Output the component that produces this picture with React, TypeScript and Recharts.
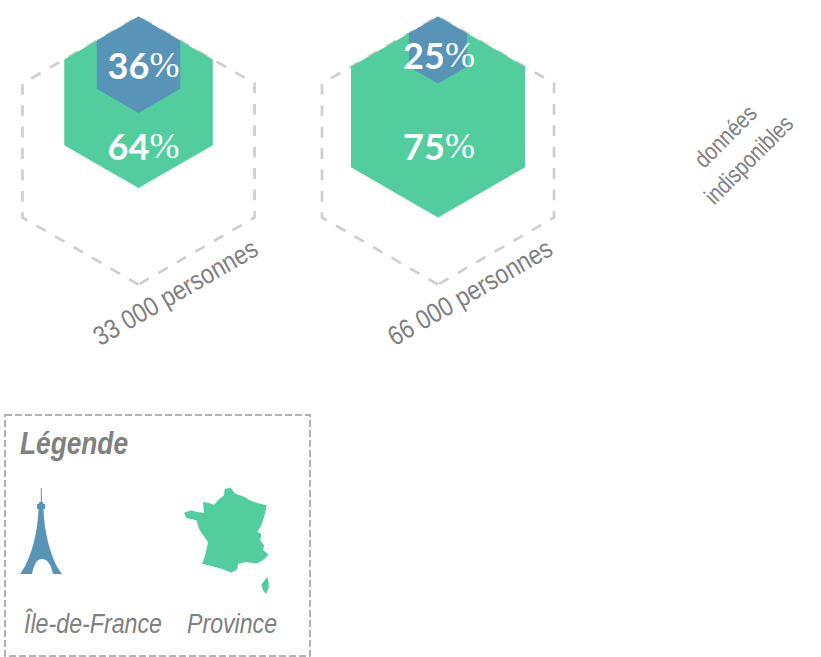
import { ScatterChart, Scatter, XAxis, YAxis, Legend } from 'recharts';

const regions = [0, 1, 2];
const idfShare = [36, 25, null];
const provinceShare = [64, 75, null];
const fullShare = [100, 100, null];
const populationLabels = ['33 000 personnes', '66 000 personnes', null];
const missingLabels = ['données', 'indisponibles'];
const missingRegion = 2;
const legendTitle = 'Légende';
const idfName = 'Île-de-France';
const provinceName = 'Province';

const BLUE = '#5894b8';
const GREEN = '#52ce9e';
const GREY = '#808080';
const NARROW = '"Liberation Sans", sans-serif';
const TOP = 16.5;

const toRows = (values: (number | null)[]) =>
    regions
        .map((region, i) => ({ region, share: values[i], population: populationLabels[i] }))
        .filter((row) => row.share !== null);

const idfRows = toRows(idfShare);
const provinceRows = toRows(provinceShare);
const fullRows = toRows(fullShare);
const missingRows = [{ region: missingRegion, share: 50 }];

// pointy-top hexagon hanging from the top vertex, cy is the bottom vertex
const hexPath = (cx: number, cy: number) => {
    const r = (cy - TOP) / 2;
    const w = r * Math.cos(Math.PI / 6);
    const m = TOP + r;
    return `M${cx},${cy} L${cx - w},${m + r / 2} L${cx - w},${m - r / 2} L${cx},${TOP} L${cx + w},${m - r / 2} L${cx + w},${m + r / 2} Z`;
};

// the font has no narrow cut here, so the labels are squeezed to the measured width
const NarrowText = ({ width, children, ...rest }: any) => (
    <text fill={GREY} fontFamily={NARROW} textLength={width} lengthAdjust="spacingAndGlyphs" {...rest}>
        {children}
    </text>
);

const PercentText = ({ x, y, value }: { x: number; y: number; value: number }) => (
    <text x={x} y={y} textAnchor="middle" dominantBaseline="central" fill="#fff" fontFamily="Lato" fontWeight={700} fontSize={36}>
        {value}
        <tspan fontFamily="Liberation Serif" fontWeight={400}>%</tspan>
    </text>
);

const OuterShape = ({ cx, cy, payload }: any) => {
    const lx = cx + (payload.region === 0 ? 37 : 32);
    const ly = cy + 8;
    return (
        <g>
            <path d={hexPath(cx, cy)} fill="none" stroke="#cfcfcf" strokeWidth={2.7} strokeDasharray="10.8 10.6" strokeLinejoin="round" />
            <NarrowText x={lx} y={ly} width={185} textAnchor="middle" dominantBaseline="central" fontSize={27} transform={`rotate(-30 ${lx} ${ly})`}>
                {payload.population}
            </NarrowText>
        </g>
    );
};

const ProvinceShape = ({ cx, cy, payload }: any) => (
    <g>
        <path d={hexPath(cx, cy)} fill={GREEN} />
        <PercentText x={cx + (payload.region === 0 ? 5 : 1)} y={146} value={payload.share} />
    </g>
);

const IdfShape = ({ cx, cy, payload }: any) => (
    <g>
        <path d={hexPath(cx, cy)} fill={BLUE} />
        <PercentText x={cx + (payload.region === 0 ? 5 : 1)} y={Math.max((cy + TOP) / 2, 55)} value={payload.share} />
    </g>
);

const MissingShape = ({ cx, cy }: any) => (
    <g transform={`translate(0 -2) rotate(-45 ${cx} ${cy})`}>
        <NarrowText x={cx} y={cy - 9} width={77} textAnchor="middle" fontSize={24}>{missingLabels[0]}</NarrowText>
        <NarrowText x={cx} y={cy + 24} width={114} textAnchor="middle" fontSize={24}>{missingLabels[1]}</NarrowText>
    </g>
);

// outline traced in a 3x crop, scaled back down where it is drawn
const france =
    'M18,92 L40,85 L55,90 L78,92 L75,60 L90,62 L108,68 L125,50 L138,40 L140,20 L158,18 L172,35 L200,45 L215,55 L235,62 L266,70 L260,100 L250,130 L238,150 L250,155 L247,175 L258,190 L256,205 L272,218 L255,235 L235,245 L205,240 L180,245 L178,262 L160,272 L135,262 L100,252 L72,245 L80,225 L85,205 L90,180 L65,145 L55,115 L25,108 Z M268,285 L272,300 L272,318 L264,336 L255,325 L250,308 L260,295 Z';

const tower =
    'M36.8,74 H37.8 V88 H39 V90 H41 V95 H39.5 C40,115 46,145 58,160 H49 C47,150 43,145 38,145 C33,145 30,150 28,160 H16 C28,145 34,115 34.5,95 H33 V90 H35 V88 H36.8 Z';

const LegendBox = () => (
    <svg width={309} height={245} style={{ display: 'block' }}>
        <rect x={1} y={1} width={305} height={241} fill="none" stroke="#999" strokeWidth={1.5} strokeDasharray="7 3" />
        <NarrowText x={16} y={40} width={108} fontStyle="italic" fontWeight={700} fontSize={31}>{legendTitle}</NarrowText>
        <path d={tower} fill={BLUE} />
        <path d={france} fill={GREEN} transform="translate(174,68) scale(0.3333)" />
        <NarrowText x={20} y={219} width={138} fontStyle="italic" fontSize={27}>{idfName}</NarrowText>
        <NarrowText x={183} y={219} width={90} fontStyle="italic" fontSize={27}>{provinceName}</NarrowText>
    </svg>
);

const App = () => (
    <div style={{ position: 'absolute', left: 0, top: 0 }}>
        <ScatterChart width={821} height={657} margin={{ top: TOP, right: 83.5, bottom: 372.5, left: 138.5 }}>
            <XAxis type="number" dataKey="region" domain={[0, 2]} hide />
            <YAxis type="number" dataKey="share" domain={[0, 100]} reversed hide />
            <Legend
                layout="horizontal"
                align="center"
                verticalAlign="middle"
                content={<LegendBox />}
                wrapperStyle={{ left: 4, top: 414, width: 309, height: 245 }}
            />
            <Scatter name="Ensemble" data={fullRows} legendType="none" shape={OuterShape} isAnimationActive={false} />
            <Scatter name={provinceName} data={provinceRows} fill={GREEN} shape={ProvinceShape} isAnimationActive={false} />
            <Scatter name={idfName} data={idfRows} fill={BLUE} shape={IdfShape} isAnimationActive={false} />
            <Scatter name="Sans données" data={missingRows} legendType="none" shape={MissingShape} isAnimationActive={false} />
        </ScatterChart>
    </div>
);

export default App;
